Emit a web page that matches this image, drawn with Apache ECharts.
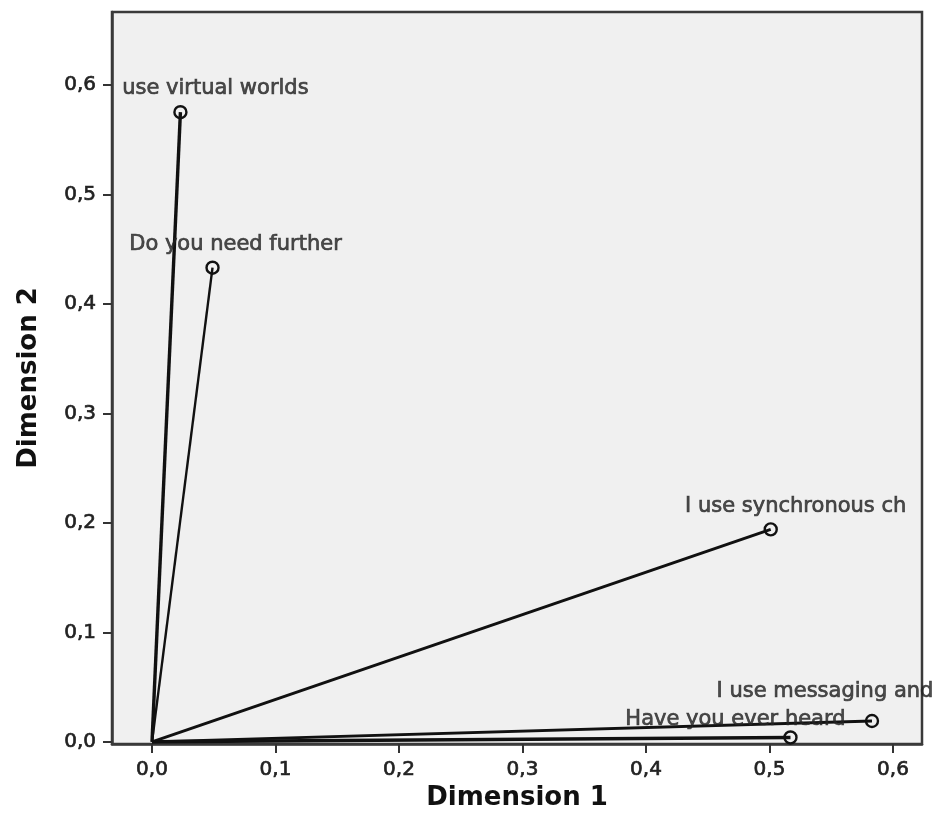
<!DOCTYPE html>
<html>
<head>
<meta charset="utf-8">
<script src="https://cdn.jsdelivr.net/npm/echarts@6/dist/echarts.min.js"></script>
<style>
  html, body { margin: 0; padding: 0; background: #ffffff; }
  #chart { width: 936px; height: 830px; }
</style>
</head>
<body>
<div id="chart"></div>
<script>
// Variable loadings on the two dimensions (vectors drawn from the origin)
const variables = [
  'use virtual worlds',
  'Do you need further',
  'I use synchronous ch',
  'I use messaging and',
  'Have you ever heard'
];
const dim1 = [0.023, 0.049, 0.501, 0.583, 0.517];
const dim2 = [0.575, 0.433, 0.194, 0.019, 0.004];
const lineWidths = [3.4, 2.4, 3, 2.8, 3.4];

// Tick values shown on both axes
const xTicks = [0.0, 0.1, 0.2, 0.3, 0.4, 0.5, 0.6];
const yTicks = [0.0, 0.1, 0.2, 0.3, 0.4, 0.5, 0.6];

// Label placement relative to each endpoint marker (pixels)
const labelOffsets = [[35, -24], [23, -23], [25, -23], [-47, -29], [-55, -18]];

const fmt = v => v.toFixed(1).replace('.', ',');
const textColor = '#222222';
const font = 'DejaVu Sans';
// thin outline in the text colour gives the labels a slightly heavier stroke
const heavyText = { textBorderColor: '#2a2a2a', textBorderWidth: 0.7 };

const series = [];
variables.forEach((name, i) => {
  series.push({
    type: 'line',
    name: name,
    data: [
      { value: [0, 0], symbol: 'none' },
      { value: [dim1[i], dim2[i]] }
    ],
    symbol: 'circle',
    symbolSize: 12,
    showAllSymbol: true,
    lineStyle: { color: '#111111', width: lineWidths[i] },
    itemStyle: { color: 'rgba(0,0,0,0)', borderColor: '#111111', borderWidth: 2.4 },
    emphasis: { disabled: true },
    animation: false,
    z: 3
  });
});

series.push({
  type: 'scatter',
  data: variables.map((n, i) => ({
    value: [dim1[i], dim2[i]],
    label: {
      show: true,
      formatter: n,
      position: 'inside',
      align: 'center',
      verticalAlign: 'middle',
      offset: labelOffsets[i]
    }
  })),
  symbolSize: 0,
  itemStyle: { color: 'rgba(0,0,0,0)' },
  label: Object.assign({ color: textColor, fontFamily: font, fontSize: 21 }, heavyText),
  emphasis: { disabled: true },
  silent: true,
  animation: false,
  z: 5
});

const chart = echarts.init(document.getElementById('chart'), null, { renderer: 'canvas' });
chart.setOption({
  backgroundColor: '#ffffff',
  animation: false,
  grid: {
    left: 112, right: 14, top: 12, bottom: 86,
    show: true,
    backgroundColor: '#f0f0f0',
    borderColor: '#3a3a3a',
    borderWidth: 2.5
  },
  xAxis: {
    type: 'value',
    min: -0.0324,
    max: 0.6235,
    name: 'Dimension 1',
    nameLocation: 'middle',
    nameGap: 36,
    nameTextStyle: { fontFamily: font, fontSize: 26, fontWeight: 'bold', color: '#111111' },
    axisLine: { show: true, onZero: false, lineStyle: { color: '#3a3a3a', width: 2.5 } },
    axisTick: { show: true, length: 9, customValues: xTicks, lineStyle: { color: '#333333', width: 2 } },
    axisLabel: Object.assign({
      customValues: xTicks,
      formatter: fmt,
      margin: 16,
      color: textColor, fontFamily: font, fontSize: 20
    }, heavyText),
    splitLine: { show: false }
  },
  yAxis: {
    type: 'value',
    min: -0.002,
    max: 0.6665,
    name: 'Dimension 2',
    nameLocation: 'middle',
    nameGap: 70,
    nameTextStyle: { fontFamily: font, fontSize: 26, fontWeight: 'bold', color: '#111111' },
    axisLine: { show: true, onZero: false, lineStyle: { color: '#3a3a3a', width: 2.5 } },
    axisTick: { show: true, length: 9, customValues: yTicks, lineStyle: { color: '#333333', width: 2 } },
    axisLabel: Object.assign({
      customValues: yTicks,
      formatter: fmt,
      margin: 16,
      color: textColor, fontFamily: font, fontSize: 20
    }, heavyText),
    splitLine: { show: false }
  },
  series: series
});
</script>
</body>
</html>
